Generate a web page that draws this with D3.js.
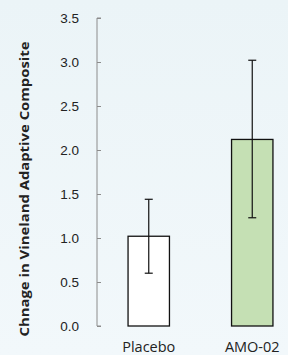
<!DOCTYPE html>
<html>
<head>
<meta charset="utf-8">
<script src="https://cdn.jsdelivr.net/npm/d3@7"></script>
<style>
  body { margin: 0; background: #eef5f8; }
  svg { display: block; font-family: "Open Sans", Lato, sans-serif; }
</style>
</head>
<body>
<div id="chart"></div>
<script>
const groups = ["Placebo", "AMO-02"]
const means = [1.02, 2.12]
const lower = [0.60, 1.23]
const upper = [1.44, 3.02]
const fills = ["#ffffff", "#c5e0b4"]
const yTicks = [0, 0.5, 1, 1.5, 2, 2.5, 3, 3.5]

const width = 288, height = 355

const svg = d3.select("#chart").append("svg")
  .attr("width", width)
  .attr("height", height)

const grad = svg.append("defs").append("linearGradient")
  .attr("id", "bg").attr("x1", 0).attr("y1", 0).attr("x2", 0).attr("y2", 1)
grad.append("stop").attr("offset", "0%").attr("stop-color", "#ebf4f7")
grad.append("stop").attr("offset", "100%").attr("stop-color", "#f2f8fb")
svg.append("rect").attr("width", width).attr("height", height).attr("fill", "url(#bg)")

const y = d3.scaleLinear().domain([0, 3.5]).range([326, 18])
const x = d3.scaleBand().domain(groups).range([97, 304]).paddingInner(0.6).paddingOuter(0.3)

// y axis
const yAxis = svg.append("g")
  .attr("transform", "translate(97,0)")
  .call(d3.axisRight(y).tickValues(yTicks).tickSize(4).tickFormat(d3.format(".1f")))
yAxis.select(".domain").attr("stroke", "#8c8c8c").attr("d", "M4,18H0V326H4")
yAxis.selectAll(".tick line").attr("stroke", "#8c8c8c")
yAxis.selectAll(".tick text")
  .attr("x", -18).attr("text-anchor", "end")
  .attr("font-size", 13.5).attr("fill", "#222")

// bars
svg.append("g").selectAll("rect").data(groups).join("rect")
  .attr("x", d => x(d))
  .attr("y", (d, i) => y(means[i]))
  .attr("width", x.bandwidth())
  .attr("height", (d, i) => y(0) - y(means[i]))
  .attr("fill", (d, i) => fills[i])
  .attr("stroke", "#111")
  .attr("stroke-width", 1.3)

// error bars
const eb = svg.append("g").attr("stroke", "#111").attr("stroke-width", 1.2)
groups.forEach((g, i) => {
  const cx = x(g) + x.bandwidth() / 2
  eb.append("line").attr("x1", cx).attr("x2", cx).attr("y1", y(upper[i])).attr("y2", y(lower[i]))
  eb.append("line").attr("x1", cx - 4).attr("x2", cx + 4).attr("y1", y(upper[i])).attr("y2", y(upper[i]))
  eb.append("line").attr("x1", cx - 4).attr("x2", cx + 4).attr("y1", y(lower[i])).attr("y2", y(lower[i]))
})

// category labels
svg.append("g").selectAll("text").data(groups).join("text")
  .attr("x", d => x(d) + x.bandwidth() / 2)
  .attr("y", 352)
  .attr("text-anchor", "middle")
  .attr("font-size", 14.5)
  .attr("fill", "#222")
  .text(d => d)

// y title
svg.append("text")
  .attr("transform", "translate(29,189) rotate(-90)")
  .attr("text-anchor", "middle")
  .attr("font-size", 12.5)
  .attr("font-weight", "bold")
  .attr("fill", "#222")
  .attr("textLength", 295)
  .attr("lengthAdjust", "spacingAndGlyphs")
  .text("Chnage in Vineland Adaptive Composite")
</script>
</body>
</html>
